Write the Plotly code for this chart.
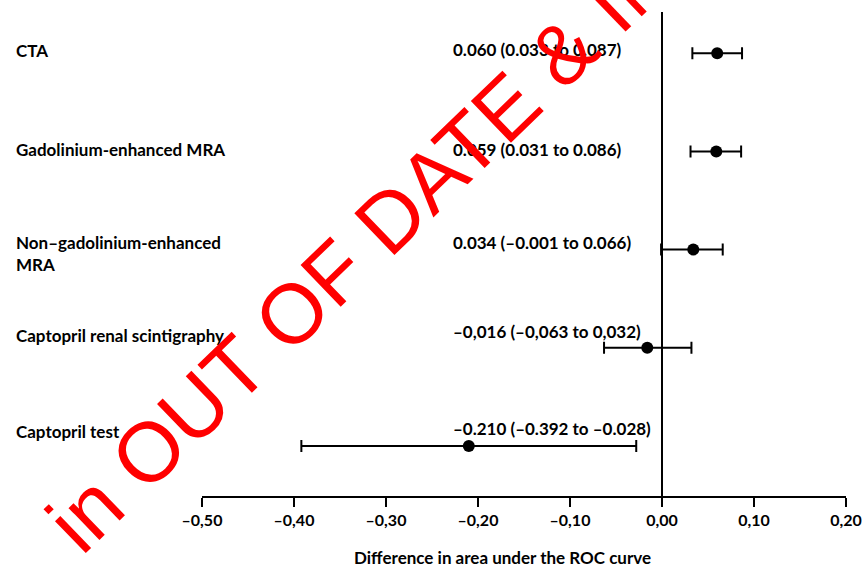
import plotly.graph_objects as go

# ---- data ----
tests = ["CTA", "Gadolinium-enhanced MRA", "Non–gadolinium-enhanced<br>MRA",
         "Captopril renal scintigraphy", "Captopril test"]
estimate = [0.060, 0.059, 0.034, -0.016, -0.210]
ci_low = [0.033, 0.031, -0.001, -0.063, -0.392]
ci_high = [0.087, 0.086, 0.066, 0.032, -0.028]
value_labels = ["0.060 (0.033 to 0.087)", "0.059 (0.031 to 0.086)",
                "0.034 (–0.001 to 0.066)", "–0,016 (–0,063 to 0,032)",
                "–0.210 (–0.392 to –0.028)"]
tick_vals = [-0.5, -0.4, -0.3, -0.2, -0.1, 0.0, 0.1, 0.2]
tick_labels = ["–0,50", "–0,40", "–0,30", "–0,20", "–0,10", "0,00", "0,10", "0,20"]
x_title = "Difference in area under the ROC curve"
watermark = "in OUT OF DATE & IN"

# ---- layout helpers (positions/styles) ----
n = len(tests)
ypos = list(range(n, 0, -1))
label_shift = [3, 2, -4, 12, 14]
value_shift = [4, 2, 7, 16, 17]
FONT = "Lato"
BLACK = "#000000"

err_plus = [h - e for h, e in zip(ci_high, estimate)]
err_minus = [e - l for e, l in zip(estimate, ci_low)]

fig = go.Figure()
fig.add_trace(go.Scatter(
    x=estimate, y=ypos, mode="markers",
    marker=dict(size=12, color=BLACK),
    error_x=dict(type="data", symmetric=False, array=err_plus, arrayminus=err_minus,
                 color=BLACK, thickness=2, width=6),
    showlegend=False, hoverinfo="skip",
))

annotations = []
for i in range(n):
    annotations.append(dict(
        x=-0.292, xref="paper", y=ypos[i], yref="y", yshift=label_shift[i],
        text=tests[i], showarrow=False, xanchor="left", yanchor="middle", align="left",
        font=dict(family=FONT, size=17, color=BLACK, weight="bold")))
    annotations.append(dict(
        x=-0.229, xref="x", y=ypos[i], yref="y", yshift=value_shift[i],
        text=value_labels[i], showarrow=False, xanchor="left", yanchor="middle",
        font=dict(family=FONT, size=17, color=BLACK, weight="bold")))

annotations.append(dict(
    x=0.466, xref="paper", y=-0.128, yref="paper", text=x_title, showarrow=False,
    xanchor="center", yanchor="middle",
    font=dict(family=FONT, size=17, color=BLACK, weight="bold")))

annotations.append(dict(
    x=0.247, xref="paper", y=0.514, yref="paper", text=watermark, showarrow=False,
    xanchor="center", yanchor="middle", textangle=-44,
    font=dict(family="Liberation Sans", size=84, color="#FF0000")))

fig.update_layout(
    width=863, height=570, autosize=False,
    margin=dict(l=202, r=17, t=12, b=74, autoexpand=False),
    paper_bgcolor="white", plot_bgcolor="white",
    annotations=annotations,
    xaxis=dict(range=[-0.5, 0.2], tickvals=tick_vals, ticktext=tick_labels,
               automargin=False,
               showgrid=False, zeroline=True, zerolinecolor=BLACK, zerolinewidth=2,
               showline=True, linecolor=BLACK, linewidth=2,
               ticks="outside", ticklen=9, tickwidth=2, tickcolor=BLACK,
               tickfont=dict(family=FONT, size=16, color=BLACK, weight="bold")),
    yaxis=dict(range=[0.49, 5.42], visible=False, showgrid=False, zeroline=False,
               automargin=False),
)

fig.write_html(
    "out.html",
    config={"displayModeBar": False, "responsive": False},
    post_script="document.body.style.margin='0';document.body.style.padding='0';"
                "document.body.style.overflow='hidden';",
)
